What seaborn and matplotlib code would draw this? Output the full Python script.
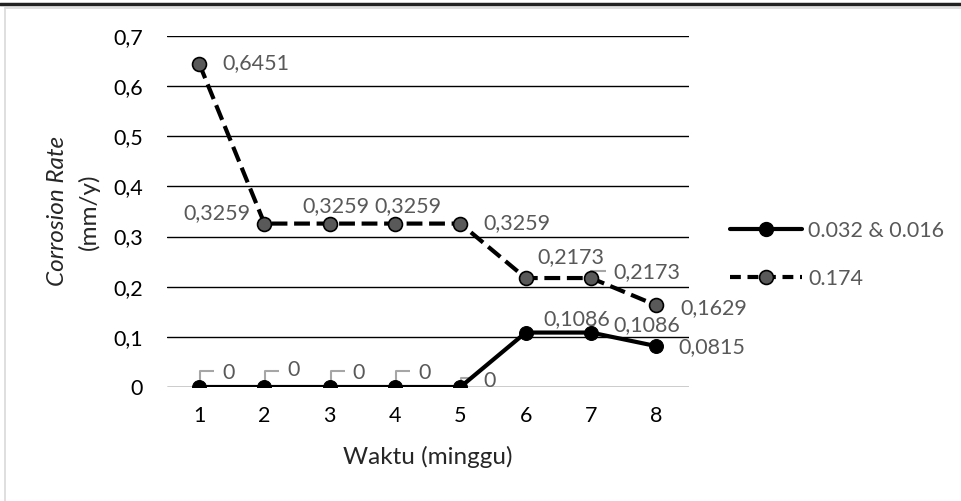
import matplotlib
matplotlib.use("Agg")
import matplotlib.pyplot as plt
from matplotlib.lines import Line2D
import matplotlib.transforms as mtransforms
import seaborn as sns
import pandas as pd

# Data
weeks = [1, 2, 3, 4, 5, 6, 7, 8]
rate_low = [0, 0, 0, 0, 0, 0.1086, 0.1086, 0.0815]        # 0.032 & 0.016
rate_high = [0.6451, 0.3259, 0.3259, 0.3259, 0.3259, 0.2173, 0.2173, 0.1629]  # 0.174
series_names = ["0.032 & 0.016", "0.174"]
y_ticks = [0, 0.1, 0.2, 0.3, 0.4, 0.5, 0.6, 0.7]
y_tick_labels = ["0", "0,1", "0,2", "0,3", "0,4", "0,5", "0,6", "0,7"]
x_label = "Waktu (minggu)"

sns.set_theme(style="white")
plt.rcParams["font.family"] = ["Lato", "DejaVu Sans"]

W, H = 961, 501
fig = plt.figure(figsize=(W / 100, H / 100), dpi=100)
ax = fig.add_axes([166.5 / W, 1 - 387 / H, (689 - 166.5) / W, (387 - 36) / H])

df = pd.DataFrame({"week": weeks, "low": rate_low, "high": rate_high})

LABEL_GREY = "#595959"
FS = 15.5
TITLE_FS = 17.5

# horizontal gridlines
for t in y_ticks:
    ax.axhline(t, color="black", lw=1.0, zorder=1)

sns.lineplot(data=df, x="week", y="low", ax=ax, color="black", lw=3.0,
             marker="o", markersize=10, markerfacecolor="black",
             markeredgecolor="black", zorder=4, label=series_names[0])
sns.lineplot(data=df, x="week", y="high", ax=ax, color="black", lw=3.0,
             marker="o", markersize=10, markerfacecolor="#595959",
             markeredgecolor="black", markeredgewidth=1.2, zorder=5,
             label=series_names[1])
ax.lines[-1].set_dashes([3.8, 1.6])
ax.lines[-1].set_dash_capstyle("butt")

ax.set_xlim(0.5, 8.5)
ax.set_ylim(0, 0.7)
ax.set_xticks(weeks)
ax.set_xticklabels([str(w) for w in weeks], fontsize=FS, color="black")
ax.set_yticks(y_ticks)
ax.set_yticklabels(y_tick_labels, fontsize=FS, color="black")
ax.tick_params(axis="x", length=0, pad=14)
ax.tick_params(axis="y", length=0, pad=17)
ax.set_xlabel("")
ax.set_ylabel("")
for s in ax.spines.values():
    s.set_visible(False)
ax.set_facecolor("none")
fig.patch.set_facecolor("white")

fig.text(427.5 / W, 1 - 457 / H, x_label, ha="center", va="center", fontsize=TITLE_FS)
fig.text(58 / W, 1 - 211 / H, "Corrosion Rate", rotation=90, style="italic",
         ha="center", va="center", fontsize=TITLE_FS)
fig.text(89 / W, 1 - 212 / H, "(mm/y)", rotation=90,
         ha="center", va="center", fontsize=TITLE_FS)


def px_offset(dx, dy):
    # offset in pixels (positive dy moves downward on screen)
    return mtransforms.offset_copy(ax.transData, fig=fig, x=dx * 0.72, y=-dy * 0.72, units="points")


def fmt(v):
    return f"{v:.4f}".replace(".", ",") if v else "0"


# label offsets in pixels: (dx, dy, horizontal alignment)
low_offsets = [(23, -14, "left"), (23, -17, "left"), (23, -14, "left"), (23, -14, "left"),
               (23, -6, "left"), (18, -13, "left"), (22, -7, "left"), (22, 1, "left")]
high_offsets = [(23, 0, "left"), (-14, -10, "right"), (6, -17, "center"), (13, -17, "center"),
                (23, 0, "left"), (12, -21, "left"), (22, -6, "left"), (24, 3, "left")]

for w, v, (dx, dy, ha) in zip(weeks, rate_low, low_offsets):
    ax.text(w, v, fmt(v), transform=px_offset(dx, dy), ha=ha, va="center",
            fontsize=FS, color=LABEL_GREY, zorder=6)
for w, v, (dx, dy, ha) in zip(weeks, rate_high, high_offsets):
    ax.text(w, v, fmt(v), transform=px_offset(dx, dy), ha=ha, va="center",
            fontsize=FS, color=LABEL_GREY, zorder=6)


# leader lines for labels sitting close to their points
def leader(w, v, pts):
    xs, ys = [], []
    for dx, dy in pts:
        disp = ax.transData.transform((w, v))
        xs.append(disp[0] + dx)
        ys.append(disp[1] - dy)
    inv = ax.transData.inverted()
    data = inv.transform(list(zip(xs, ys)))
    ax.plot(data[:, 0], data[:, 1], color="#a6a6a6", lw=1.5, zorder=3.5,
            solid_capstyle="butt")


fig.canvas.draw()
for w, v in zip(weeks[:4], rate_low[:4]):
    leader(w, v, [(1, -6), (1, -16), (15, -16)])
leader(weeks[4], rate_low[4], [(1, -4), (1, -9), (13, -9)])
leader(weeks[6], rate_low[6], [(0, -2), (3, -8)])
leader(weeks[6], rate_high[6], [(0, -2), (0, -7), (15, -7)])

# legend
handles = [
    Line2D([], [], color="black", lw=3.0, marker="o", markersize=10,
           markerfacecolor="black", markeredgecolor="black"),
    Line2D([], [], color="black", lw=3.0, dashes=[2.6, 1.6], marker="o", markersize=10,
           markerfacecolor="#595959", markeredgecolor="black", markeredgewidth=1.2),
]
leg = fig.legend(handles, series_names, loc="center left",
                 bbox_to_anchor=(730 / W, 1 - 255 / H), frameon=False,
                 fontsize=FS, handlelength=3.35, handletextpad=0.28,
                 labelspacing=1.3, borderpad=0, borderaxespad=0)
for t in leg.get_texts():
    t.set_color(LABEL_GREY)
if ax.get_legend() is not None:
    ax.get_legend().remove()

# outer frame: dark rule at the top, light chart border below it
fig.add_artist(Line2D([0, 1], [1 - 3.5 / H, 1 - 3.5 / H], transform=fig.transFigure,
                      color="#222222", lw=2.5))
fig.add_artist(Line2D([4.5 / W, 1], [1 - 7.5 / H, 1 - 7.5 / H], transform=fig.transFigure,
                      color="#d9d9d9", lw=1.2))
fig.add_artist(Line2D([4.5 / W, 4.5 / W], [0, 1 - 7.5 / H], transform=fig.transFigure,
                      color="#d9d9d9", lw=1.2))

fig.savefig("out.png", dpi=100)
